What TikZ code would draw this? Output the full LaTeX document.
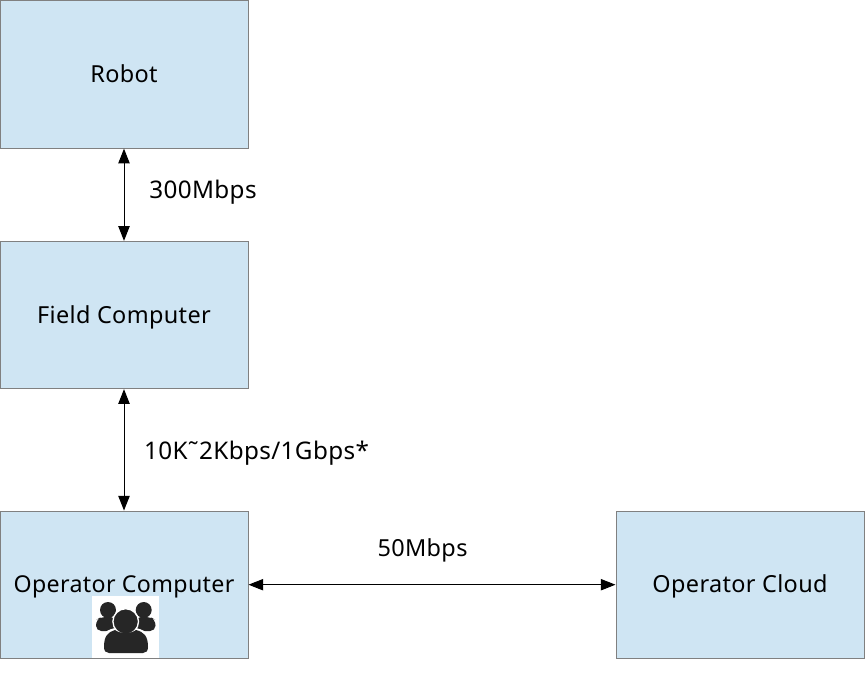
\documentclass[tikz,border=0pt]{standalone}
\usepackage{fontspec}
\setmainfont{Noto Sans}
\usetikzlibrary{arrows.meta}
\definecolor{boxfill}{HTML}{CFE5F3}
\definecolor{boxline}{HTML}{808080}
\definecolor{icondark}{HTML}{262626}
\newfontfamily\labelfont[LetterSpace=1.5]{Noto Sans}
\tikzset{
  box/.style={draw=boxline,fill=boxfill,line width=0.75pt,minimum width=186pt,minimum height=110.5pt,inner sep=0pt,text height=15pt,text depth=3pt,font=\labelfont\fontsize{17.6}{19}\selectfont,text=black},
  lbl/.style={inner sep=0pt,anchor=base,font=\labelfont\fontsize{17.6}{19}\selectfont,text=black},
  widelbl/.style={lbl,font=\labelfont\fontsize{18.2}{19}\selectfont},
  link/.style={draw=black,line width=0.75pt,{Triangle[length=11pt,width=8.5pt]}-{Triangle[length=11pt,width=8.5pt]}}
}
\begin{document}
\begin{tikzpicture}[x=0.75pt,y=-0.75pt]
\useasboundingbox (0,0) rectangle (865,697);
\node[box] (robot) at (124,74.5) {Robot};
\node[box] (field) at (124,315) {Field Computer};
\node[box,font=\labelfont\fontsize{17.4}{19}\selectfont] (oper) at (124,584.7) {Operator Computer};
\node[box] (cloud) at (740,584.7) {Operator Cloud};
\draw[link] (robot) -- (field);
\draw[link] (field) -- (oper);
\draw[link] (oper) -- (cloud);
\node[widelbl] (l1) at (203,198) {300Mbps};
\node[widelbl] (l2) at (256.5,459) {10K\char"02DC 2Kbps/1Gbps*};
\node[lbl] (l3) at (422.5,556) {50Mbps};
% icon
\fill[white] (92,596) rectangle (159,657.5);
\fill[icondark] (108,610) circle[radius=8];
\fill[icondark] (143.7,610) circle[radius=8];
\fill[icondark,rounded corners=4pt] (96,631) -- (96,620) -- (101,617) -- (116,617) -- (116,631) -- cycle;
\fill[icondark,rounded corners=4pt] (155.5,631) -- (155.5,620) -- (150.5,617) -- (135.5,617) -- (135.5,631) -- cycle;
\fill[white,rounded corners=5pt] (101,653) -- (101,636) -- (110,628) -- (141,628) -- (150,636) -- (150,653) -- cycle;
\fill[icondark,draw=white,line width=1pt] (125.7,621.5) circle[radius=12.8];
\fill[icondark] (104,647) .. controls (104,636) and (108,632) .. (115,630) .. controls (120,634) and (131,634) .. (136,630) .. controls (144,632) and (148,636) .. (148,647) .. controls (148,651) and (146,653) .. (143,653) -- (109,653) .. controls (106,653) and (104,651) .. (104,647) -- cycle;
\end{tikzpicture}
\end{document}
